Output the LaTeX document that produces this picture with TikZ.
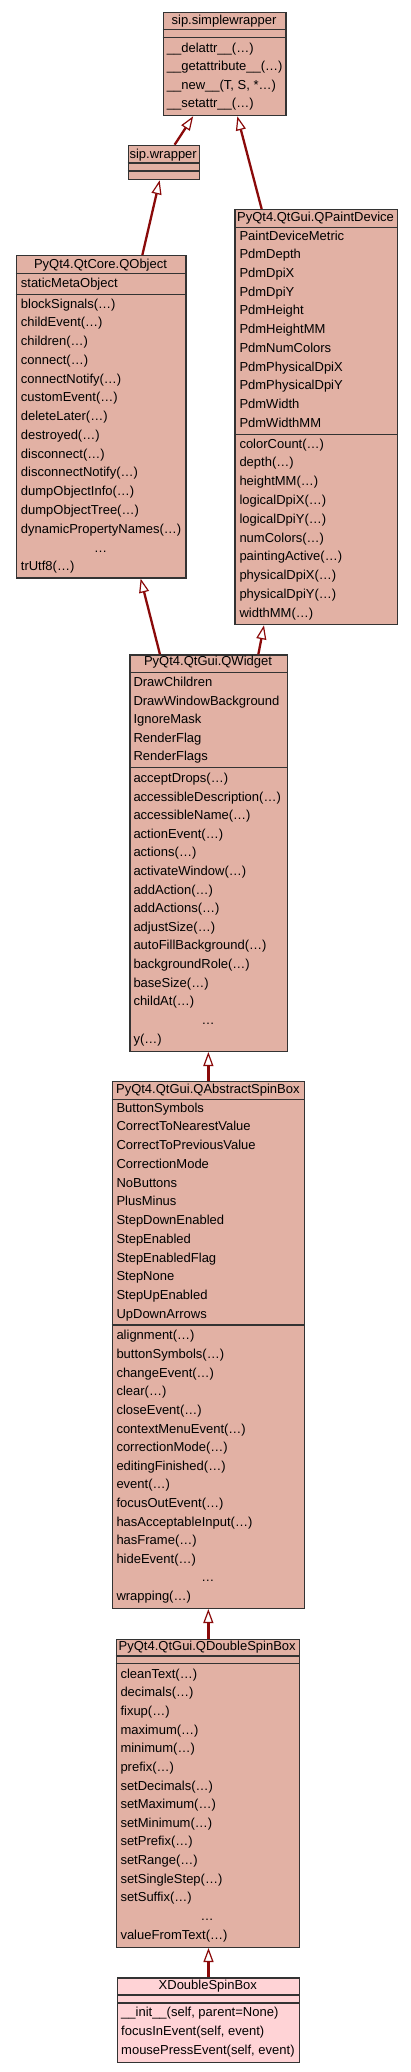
\documentclass[tikz,border=0pt]{standalone}
\usepackage{fontspec}
\setmainfont{Liberation Sans}
\usetikzlibrary{arrows.meta}
\definecolor{clsfill}{HTML}{E2B1A4}
\definecolor{xfill}{HTML}{FFD3D6}
\definecolor{edgecol}{HTML}{8A0A0A}
\definecolor{bordercol}{HTML}{333333}
\tikzset{
  cls/.style={draw=bordercol, line width=1.3pt, fill=clsfill, rectangle, inner sep=0pt},
  sepline/.style={draw=bordercol, line width=1.3pt},
  row/.style={anchor=west, inner sep=0pt, text height=9.3pt, text depth=0pt, font=\fontsize{13}{15}\selectfont},
  ttl/.style={anchor=center, inner sep=0pt, text height=9.3pt, text depth=0pt, font=\fontsize{13}{15}\selectfont},
  inherit/.style={draw=edgecol, line width=2.3pt, -{Triangle[length=14pt,width=10pt,fill=white,line width=1.2pt]}}
}
\newcommand\mkbox[6]{% name, x1, y1, x2, y2, fill
  \node[cls, fill=#6, anchor=north west, minimum width=#4-#2, minimum height=#5-#3] (#1) at (#2,#3) {};}
\begin{document}
\begin{tikzpicture}[x=1pt,y=-1pt]
\useasboundingbox (0,0) rectangle (411,2072);
\fill[white] (0,0) rectangle (411,2072);

% ---------- sip.simplewrapper ----------
\mkbox{sw}{162.7}{12}{285.3}{115}{clsfill}
\draw[sepline] (162.7,29.3) -- (285.3,29.3);
\draw[sepline] (162.7,37.3) -- (285.3,37.3);
\node[ttl] (sw-t) at (224,20.3) {sip.simplewrapper};
\foreach \t [count=\i from 0] in {{\_\_delattr\_\_(…)},{\_\_getattribute\_\_(…)},{\_\_new\_\_(T, S, *…)},{\_\_setattr\_\_(…)}}
  \node[row] (sw-m\i) at (166.7,47.8+\i*18.35) {\t};

% ---------- sip.wrapper ----------
\mkbox{wr}{127.7}{144.7}{198.7}{179}{clsfill}
\draw[sepline] (127.7,163) -- (198.7,163);
\draw[sepline] (127.7,171) -- (198.7,171);
\node[ttl] (wr-t) at (163.2,153.4) {sip.wrapper};

% ---------- PyQt4.QtCore.QObject ----------
\mkbox{qo}{15.7}{255}{185.3}{577.3}{clsfill}
\draw[sepline] (15.7,273.3) -- (185.3,273.3);
\draw[sepline] (15.7,294.3) -- (185.3,294.3);
\node[ttl] (qo-t) at (100.5,263.6) {PyQt4.QtCore.QObject};
\node[row] (qo-a0) at (20.7,282.5) {staticMetaObject};
\foreach \t [count=\i from 0] in {blockSignals(…),childEvent(…),children(…),connect(…),connectNotify(…),customEvent(…),deleteLater(…),destroyed(…),disconnect(…),disconnectNotify(…),dumpObjectInfo(…),dumpObjectTree(…),dynamicPropertyNames(…)}
  \node[row] (qo-m\i) at (20.7,303.5+\i*18.76) {\t};
\node[ttl] (qo-dots) at (100.5,547.6) {…};
\node[row] (qo-mz) at (20.7,566.2) {trUtf8(…)};

% ---------- PyQt4.QtGui.QPaintDevice ----------
\mkbox{pd}{234.3}{209}{396.7}{624}{clsfill}
\draw[sepline] (234.3,227.7) -- (396.7,227.7);
\draw[sepline] (234.3,434.3) -- (396.7,434.3);
\node[ttl] (pd-t) at (315.5,217) {PyQt4.QtGui.QPaintDevice};
\foreach \t [count=\i from 0] in {PaintDeviceMetric,PdmDepth,PdmDpiX,PdmDpiY,PdmHeight,PdmHeightMM,PdmNumColors,PdmPhysicalDpiX,PdmPhysicalDpiY,PdmWidth,PdmWidthMM}
  \node[row] (pd-a\i) at (239.3,235.5+\i*18.7) {\t};
\foreach \t [count=\i from 0] in {colorCount(…),depth(…),heightMM(…),logicalDpiX(…),logicalDpiY(…),numColors(…),paintingActive(…),physicalDpiX(…),physicalDpiY(…),widthMM(…)}
  \node[row] (pd-m\i) at (239.3,443.5+\i*18.78) {\t};

% ---------- PyQt4.QtGui.QWidget ----------
\mkbox{qw}{129.3}{654.3}{286.7}{1050.7}{clsfill}
\draw[sepline] (129.3,672.3) -- (286.7,672.3);
\draw[sepline] (129.3,767.7) -- (286.7,767.7);
\node[ttl] (qw-t) at (208,661.3) {PyQt4.QtGui.QWidget};
\foreach \t [count=\i from 0] in {DrawChildren,DrawWindowBackground,IgnoreMask,RenderFlag,RenderFlags}
  \node[row] (qw-a\i) at (133.3,681.9+\i*18.5) {\t};
\foreach \t [count=\i from 0] in {acceptDrops(…),accessibleDescription(…),accessibleName(…),actionEvent(…),actions(…),activateWindow(…),addAction(…),addActions(…),adjustSize(…),autoFillBackground(…),backgroundRole(…),baseSize(…),childAt(…)}
  \node[row] (qw-m\i) at (133.3,777.9+\i*18.6) {\t};
\node[ttl] (qw-dots) at (208,1019.6) {…};
\node[row] (qw-mz) at (133.3,1038.5) {y(…)};

% ---------- PyQt4.QtGui.QAbstractSpinBox ----------
\mkbox{as}{111.7}{1081}{304}{1607.7}{clsfill}
\draw[sepline] (111.7,1099.3) -- (304,1099.3);
\draw[sepline] (111.7,1325) -- (304,1325);
\node[ttl] (as-t) at (207.85,1089) {PyQt4.QtGui.QAbstractSpinBox};
\foreach \t [count=\i from 0] in {ButtonSymbols,CorrectToNearestValue,CorrectToPreviousValue,CorrectionMode,NoButtons,PlusMinus,StepDownEnabled,StepEnabled,StepEnabledFlag,StepNone,StepUpEnabled,UpDownArrows}
  \node[row] (as-a\i) at (116.3,1107.5+\i*18.73) {\t};
\foreach \t [count=\i from 0] in {alignment(…),buttonSymbols(…),changeEvent(…),clear(…),closeEvent(…),contextMenuEvent(…),correctionMode(…),editingFinished(…),event(…),focusOutEvent(…),hasAcceptableInput(…),hasFrame(…),hideEvent(…)}
  \node[row] (as-m\i) at (116.3,1335.2+\i*18.64) {\t};
\node[ttl] (as-dots) at (207.85,1577.3) {…};
\node[row] (as-mz) at (116.3,1596.2) {wrapping(…)};

% ---------- PyQt4.QtGui.QDoubleSpinBox ----------
\mkbox{ds}{115.7}{1639}{298.7}{1946.7}{clsfill}
\draw[sepline] (115.7,1656) -- (298.7,1656);
\draw[sepline] (115.7,1663.7) -- (298.7,1663.7);
\node[ttl] (ds-t) at (207.2,1646) {PyQt4.QtGui.QDoubleSpinBox};
\foreach \t [count=\i from 0] in {cleanText(…),decimals(…),fixup(…),maximum(…),minimum(…),prefix(…),setDecimals(…),setMaximum(…),setMinimum(…),setPrefix(…),setRange(…),setSingleStep(…),setSuffix(…)}
  \node[row] (ds-m\i) at (120.3,1673.5+\i*18.64) {\t};
\node[ttl] (ds-dots) at (207.2,1915.6) {…};
\node[row] (ds-mz) at (120.3,1934.5) {valueFromText(…)};

% ---------- XDoubleSpinBox ----------
\mkbox{xd}{117}{1977.3}{298.7}{2061.7}{xfill}
\draw[sepline] (117,1995) -- (298.7,1995);
\draw[sepline] (117,2003) -- (298.7,2003);
\node[ttl] (xd-t) at (207.85,1984.6) {XDoubleSpinBox};
\foreach \t [count=\i from 0] in {{\_\_init\_\_(self, parent=None)},{focusInEvent(self, event)},{mousePressEvent(self, event)}}
  \node[row] (xd-m\i) at (121,2011.9+\i*18.8) {\t};

% ---------- inheritance connectors ----------
\draw[inherit] ([xshift=10.8pt]wr.north) -- ([xshift=-31.5pt]sw.south);
\draw[inherit] ([xshift=-54.5pt]pd.north) -- ([xshift=12.7pt]sw.south);
\draw[inherit] ([xshift=41.2pt]qo.north) -- ([xshift=-4.2pt]wr.south);
\draw[inherit] ([xshift=-48.7pt]qw.north) -- ([xshift=39.5pt]qo.south);
\draw[inherit] ([xshift=49.7pt]qw.north) -- ([xshift=-52.2pt]pd.south);
\draw[inherit] ([xshift=-0.15pt]as.north) -- ([xshift=-0.3pt]qw.south);
\draw[inherit] ([xshift=0.5pt]ds.north) -- ([xshift=-0.15pt]as.south);
\draw[inherit] (xd.north) -- ([xshift=0.65pt]ds.south);
\end{tikzpicture}
\end{document}
